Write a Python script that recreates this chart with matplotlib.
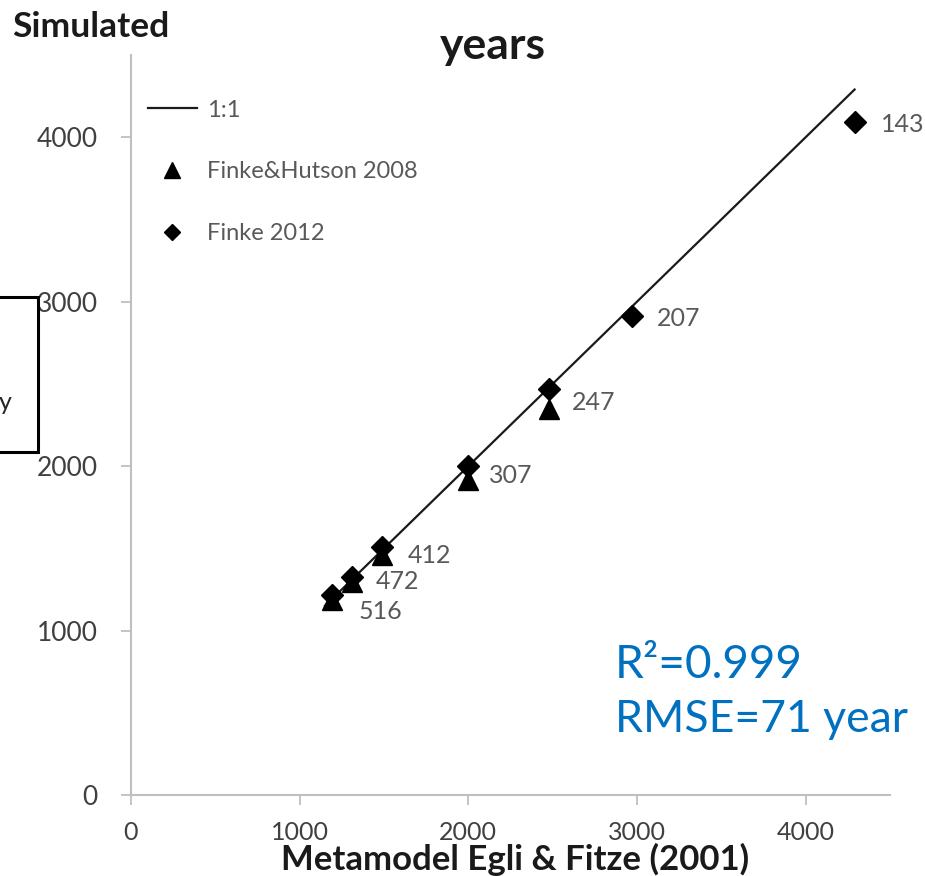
import matplotlib
matplotlib.use("Agg")
import matplotlib.pyplot as plt
from matplotlib.lines import Line2D
from matplotlib.patches import Rectangle

plt.rcParams['font.family'] = ['Lato', 'DejaVu Sans']

# ---- data ----
labels = ["143", "207", "247", "307", "412", "472", "516"]
metamodel_finke2012 = [4290, 2970, 2480, 2000, 1490, 1310, 1190]
sim_finke2012 = [4090, 2910, 2470, 2000, 1510, 1325, 1215]
metamodel_fh2008 = [2480, 2000, 1490, 1310, 1190]
sim_fh2008 = [2350, 1915, 1460, 1295, 1185]
line_1to1 = [1150, 4290]
xticks = [0, 1000, 2000, 3000, 4000]
yticks = [0, 1000, 2000, 3000, 4000]

# styling: label offsets in points (dx, dy)
label_offsets = [(19, -1.5), (18, -1.5), (16.5, -9.5), (14.5, -7), (18, -6),
                 (17, -3.5), (19, -11.5)]

W, H = 925, 876
fig = plt.figure(figsize=(W / 100, H / 100), dpi=100)
ax = fig.add_axes([131 / W, 1 - 795 / H, (890 - 131) / W, (795 - 55) / H])

ax.plot(line_1to1, line_1to1, color='#1a1a1a', lw=1.6, zorder=2)
ax.plot(metamodel_fh2008, sim_fh2008, linestyle='none', marker='^', ms=14,
        color='black', zorder=3)
ax.plot(metamodel_finke2012, sim_finke2012, linestyle='none', marker='D', ms=11,
        color='black', zorder=4)

for lab, x, y, off in zip(labels, metamodel_finke2012, sim_finke2012, label_offsets):
    ax.annotate(lab, (x, y), xytext=off, textcoords='offset points',
                ha='left', va='center', fontsize=18, color='#595959')

ax.set_xlim(0, 4500)
ax.set_ylim(0, 4500)
ax.set_xticks(xticks)
ax.set_yticks(yticks)
for s in ['top', 'right']:
    ax.spines[s].set_visible(False)
for s in ['left', 'bottom']:
    ax.spines[s].set_color('#BFBFBF')
    ax.spines[s].set_linewidth(1.5)
ax.tick_params(axis='x', direction='out', length=7, width=1.3, color='#BFBFBF',
               labelsize=18, labelcolor='#404040', pad=12)
ax.tick_params(axis='y', direction='out', length=7, width=1.3, color='#BFBFBF',
               labelsize=19, labelcolor='#404040', pad=17)

# legend
handles = [Line2D([], [], color='#1a1a1a', lw=1.6),
           Line2D([], [], linestyle='none', marker='^', ms=11, color='black'),
           Line2D([], [], linestyle='none', marker='D', ms=8, color='black')]
leg = ax.legend(handles, ['1:1', 'Finke&Hutson 2008', 'Finke 2012'],
                loc='upper left', bbox_to_anchor=(0.0, 0.962), frameon=False,
                fontsize=17, labelcolor='#595959', handlelength=2.1,
                handletextpad=0.4, labelspacing=1.72, borderaxespad=0.3)

# outside texts
fig.text(12 / W, 1 - 27 / H, 'Simulated', fontsize=25.5, fontweight='bold',
         ha='left', va='center', color='#1a1a1a')
fig.text(493 / W, 1 - 46 / H, 'years', fontsize=32, fontweight='bold',
         ha='center', va='center', color='#1a1a1a')
fig.text(515 / W, 1 - 859 / H, 'Metamodel Egli & Fitze (2001)', fontsize=25,
         fontweight='bold', ha='center', va='center', color='#1a1a1a')

fig.text(615 / W, 1 - 665 / H, 'R²=0.999', fontsize=33, color='#0070C0',
         ha='left', va='center')
fig.text(615 / W, 1 - 720 / H, 'RMSE=71 year', fontsize=32, color='#0070C0',
         ha='left', va='center')

# partially cut box on the left
fig.add_artist(Rectangle((-20 / W, 1 - 452 / H), 58 / W, 155 / H,
                         transform=fig.transFigure, fill=False,
                         edgecolor='black', lw=2.2))
fig.text(12 / W, 1 - 403 / H, 'y', fontsize=18, color='#262626',
         ha='right', va='center')

fig.savefig('out.png', dpi=100)
